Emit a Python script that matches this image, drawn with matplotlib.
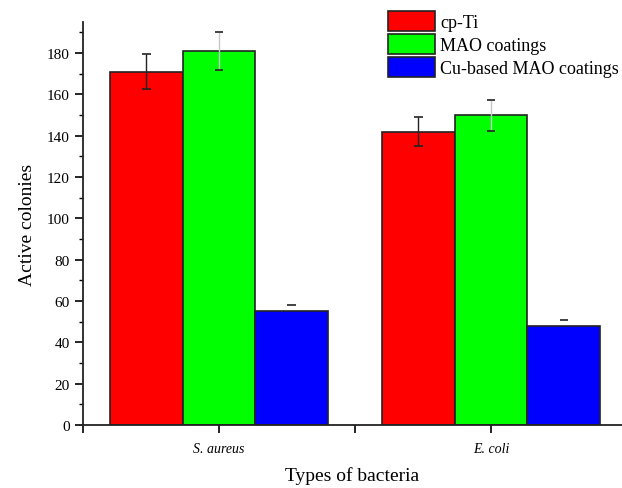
import matplotlib.pyplot as plt
import numpy as np
from matplotlib.ticker import MultipleLocator

# data
bacteria = ['S. aureus', 'E. coli']
groups = ['cp-Ti', 'MAO coatings', 'Cu-based MAO coatings']
values = {
    'cp-Ti': [171, 142],
    'MAO coatings': [181, 150],
    'Cu-based MAO coatings': [55, 48],
}
errors = {
    'cp-Ti': [8.5, 7],
    'MAO coatings': [9.2, 7.5],
    'Cu-based MAO coatings': [3, 3],
}
colors = ['#ff0000', '#00ff00', '#0000ff']
err_line_colors = ['#222222', '#c8c8c8', 'none']
lower_caps = [True, True, False]

plt.rcParams['font.family'] = ['Liberation Serif', 'DejaVu Serif']

fig = plt.figure(figsize=(6.22, 4.89), dpi=100)
ax = fig.add_axes([0.1334, 0.1288, 0.866, 0.824])

x = np.arange(1, len(bacteria) + 1)
w = 0.8 / 3
cw = 0.015
for i, g in enumerate(groups):
    pos = x + (i - 1) * w
    v = np.array(values[g])
    e = np.array(errors[g])
    ax.bar(pos, v, width=w, color=colors[i], edgecolor='#222222',
           linewidth=1.2, label=g, zorder=2)
    ax.vlines(pos, v - e, v + e, color=err_line_colors[i], linewidth=1.0, zorder=3)
    ax.hlines(v + e, pos - cw, pos + cw, color='#222222', linewidth=1.2, zorder=4)
    if lower_caps[i]:
        ax.hlines(v - e, pos - cw, pos + cw, color='#222222', linewidth=1.2, zorder=4)

ax.set_xlim(0.5, 2.48)
ax.set_ylim(0, 195)
ax.set_xticks(x)
ax.set_xticklabels(bacteria, fontstyle='italic')
ax.xaxis.set_minor_locator(MultipleLocator(0.5))
ax.yaxis.set_major_locator(MultipleLocator(20))
ax.yaxis.set_minor_locator(MultipleLocator(10))
ax.tick_params(axis='both', which='major', direction='out', length=6, width=1.2, labelsize=11)
ax.tick_params(axis='x', which='major', labelsize=10, pad=6)
ax.tick_params(axis='both', which='minor', direction='out', length=3, width=1.0)
ax.tick_params(axis='x', which='minor', length=6, width=1.2)

for s in ['top', 'right']:
    ax.spines[s].set_visible(False)
for s in ['left', 'bottom']:
    ax.spines[s].set_linewidth(1.3)
    ax.spines[s].set_color('#222222')

ax.set_ylabel('Active colonies', fontsize=14, labelpad=8)
ax.set_xlabel('Types of bacteria', fontsize=14, labelpad=8)

ax.legend(loc='upper left', bbox_to_anchor=(0.553, 1.045), frameon=False, fontsize=13,
          handlelength=2.6, handleheight=1.35, handletextpad=0.3, labelspacing=0.15,
          borderaxespad=0)

fig.savefig('out.png', dpi=100)
